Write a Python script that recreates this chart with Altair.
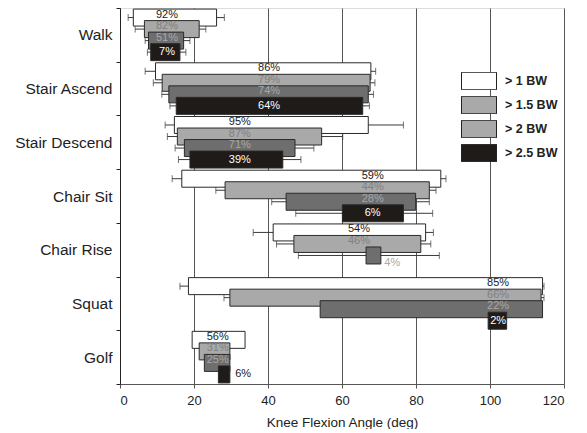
import altair as alt
import pandas as pd

categories = ["Walk", "Stair Ascend", "Stair Descend", "Chair Sit", "Chair Rise", "Squat", "Golf"]
levels = ["> 1 BW", "> 1.5 BW", "> 2 BW", "> 2.5 BW"]

# knee flexion range (deg) per level: > 1, > 1.5, > 2, > 2.5 BW  (None = no bar)
bar_start = {
    "Walk": [3.6, 6.6, 7.7, 8.3],
    "Stair Ascend": [9.6, 11.4, 13.2, 15.2],
    "Stair Descend": [14.7, 15.5, 17.4, 18.9],
    "Chair Sit": [16.7, 28.4, 44.9, 60.1],
    "Chair Rise": [41.4, 47.0, 66.5, None],
    "Squat": [18.5, 29.7, 54.1, 99.5],
    "Golf": [19.5, 21.4, 22.8, 26.6],
}
bar_end = {
    "Walk": [26.1, 21.4, 17.2, 16.2],
    "Stair Ascend": [67.8, 67.6, 67.1, 65.6],
    "Stair Descend": [67.1, 54.5, 47.3, 44.0],
    "Chair Sit": [86.7, 83.6, 79.9, 76.6],
    "Chair Rise": [82.6, 81.3, 70.5, None],
    "Squat": [114.2, 113.8, 114.2, 104.5],
    "Golf": [33.8, 29.7, 29.7, 29.7],
}
err_low = {
    "Walk": [2.2, 4.1, 6.8, 7.4],
    "Stair Ascend": [6.8, 9.0, 11.3, 13.5],
    "Stair Descend": [12.2, 12.8, 14.9, 15.8],
    "Chair Sit": [14.1, 25.9, 41.0, 47.5],
    "Chair Rise": [36.0, 42.3, 48.2, None],
    "Squat": [16.2, 28.1, None, None],
    "Golf": [None, None, None, None],
}
err_high = {
    "Walk": [28.2, 23.2, 18.9, 17.8],
    "Stair Ascend": [69.1, 68.9, 68.5, 67.4],
    "Stair Descend": [76.6, 60.2, 52.4, 48.9],
    "Chair Sit": [88.1, 85.4, 83.6, 84.5],
    "Chair Rise": [84.7, 84.0, 86.3, None],
    "Squat": [114.6, 114.6, None, None],
    "Golf": [None, None, None, None],
}
percent = {
    "Walk": [92, 82, 51, 7],
    "Stair Ascend": [86, 79, 74, 64],
    "Stair Descend": [95, 87, 71, 39],
    "Chair Sit": [59, 44, 28, 6],
    "Chair Rise": [54, 46, 4, None],
    "Squat": [85, 66, 22, 2],
    "Golf": [56, 31, 25, 6],
}
# where each percentage label sits along the angle axis (deg)
label_at = {
    "Walk": [12.7, 12.7, 12.7, 12.7],
    "Stair Ascend": [40.3, 40.3, 40.3, 40.3],
    "Stair Descend": [32.4, 32.4, 32.4, 32.4],
    "Chair Sit": [68.3, 68.3, 68.3, 68.3],
    "Chair Rise": [64.6, 64.6, 73.6, None],
    "Squat": [102.2, 102.2, 102.2, 102.2],
    "Golf": [26.4, 26.4, 26.4, 33.3],
}

bar_colors = ["#ffffff", "#a9a9a9", "#6e6e6e", "#1f1b19"]
legend_colors = ["#ffffff", "#a9a9a9", "#a9a9a9", "#1f1b19"]
text_colors = ["#1a1a1a", "#808080", "#a8a8a8", "#ffffff"]

rows = []
for cat in categories:
    for li, lev in enumerate(levels):
        s = bar_start[cat][li]
        if s is None:
            continue
        e = bar_end[cat][li]
        lx = label_at[cat][li]
        inside = s <= lx <= e
        tcol = text_colors[li] if inside else ("#1a1a1a" if li == 3 else text_colors[li])
        grp = "last" if li == 3 else ("in" if inside else "out")
        rows.append({
            "cat": cat, "level": lev, "start": s, "end": e,
            "elo": err_low[cat][li], "ehi": err_high[cat][li],
            "label": f"{percent[cat][li]}%", "lx": lx, "tcol": tcol, "grp": grp,
        })
df = pd.DataFrame(rows)

FONT = "Liberation Sans"

y_enc = alt.Y("cat:N", sort=categories,
              scale=alt.Scale(domain=categories, paddingInner=0, paddingOuter=0),
              axis=alt.Axis(title=None, tickBand="extent", grid=False, domainColor="#222",
                            tickColor="#222", tickSize=4, labelPadding=4, labelFontSize=15.5,
                            labelColor="#222", labelFont=FONT, labelLimit=200))
yoff = alt.YOffset("level:N", sort=levels,
                   scale=alt.Scale(domain=levels, paddingInner=0, paddingOuter=0.33))
x_scale = alt.Scale(domain=[0, 120], nice=False, zero=False)
x_axis = alt.Axis(values=[0, 20, 40, 60, 80, 100, 120], grid=True, gridColor="#555",
                  gridWidth=1, domainColor="#555", tickColor="#555", tickSize=4,
                  labelFontSize=13, labelFont=FONT, labelColor="#222", labelPadding=6,
                  title="Knee Flexion Angle (deg)", titleFontSize=13.5, titleFont=FONT,
                  titleFontWeight="normal", titleColor="#222", titlePadding=8)

base = alt.Chart(df)

err = base.transform_filter("isValid(datum.elo)")
whisk = err.mark_rule(color="#3a3a3a", strokeWidth=1).encode(
    x=alt.X("elo:Q", scale=x_scale, axis=x_axis), x2="ehi:Q", y=y_enc, yOffset=yoff)
cap_lo = err.mark_tick(color="#3a3a3a", size=7, thickness=1).encode(
    x=alt.X("elo:Q", scale=x_scale, axis=x_axis), y=y_enc, yOffset=yoff)
cap_hi = err.mark_tick(color="#3a3a3a", size=7, thickness=1).encode(
    x=alt.X("ehi:Q", scale=x_scale, axis=x_axis), y=y_enc, yOffset=yoff)

bars = base.mark_bar(height=17, stroke="#2a2a2a", strokeWidth=1).encode(
    x=alt.X("start:Q", scale=x_scale, axis=x_axis), x2="end:Q", y=y_enc, yOffset=yoff,
    fill=alt.Fill("level:N", sort=levels,
                  scale=alt.Scale(domain=levels, range=bar_colors), legend=None))

def labels(group, dy):
    return base.transform_filter(f"datum.grp == '{group}'").mark_text(
        fontSize=11, font=FONT, dy=dy).encode(
        x=alt.X("lx:Q", scale=x_scale, axis=x_axis), y=y_enc, yOffset=yoff,
        text="label:N", color=alt.Color("tcol:N", scale=None))

legend_df = pd.DataFrame({"level": levels})
legend_layer = alt.Chart(legend_df).mark_rect(opacity=1, fillOpacity=1).encode(
    x=alt.value(0), x2=alt.value(0), y=alt.value(0), y2=alt.value(0),
    fill=alt.Fill("level:N", sort=levels,
                  scale=alt.Scale(domain=levels, range=legend_colors),
                  legend=alt.Legend(title=None, orient="none", legendX=341, legendY=64,
                                    symbolType="M-1,-0.5H1V0.5H-1Z", symbolSize=1225,
                                    symbolStrokeColor="#222", symbolStrokeWidth=1,
                                    symbolOpacity=1, labelFont=FONT, labelFontSize=12.5,
                                    labelFontWeight="bold", labelColor="#222",
                                    clipHeight=18, rowPadding=6, labelOffset=8, padding=0)))

chart = alt.layer(
    whisk, cap_lo, cap_hi, bars,
    labels("in", -3), labels("last", 0), labels("out", 8),
    legend_layer,
).resolve_scale(fill="independent").properties(
    width=444, height=376,
    autosize=alt.AutoSizeParams(type="none"),
    padding={"left": 112, "top": 0, "right": 15, "bottom": 45},
).configure_view(stroke=None).configure(background="white")

chart.save("out.html", embed_options={"renderer": "svg", "actions": False})
